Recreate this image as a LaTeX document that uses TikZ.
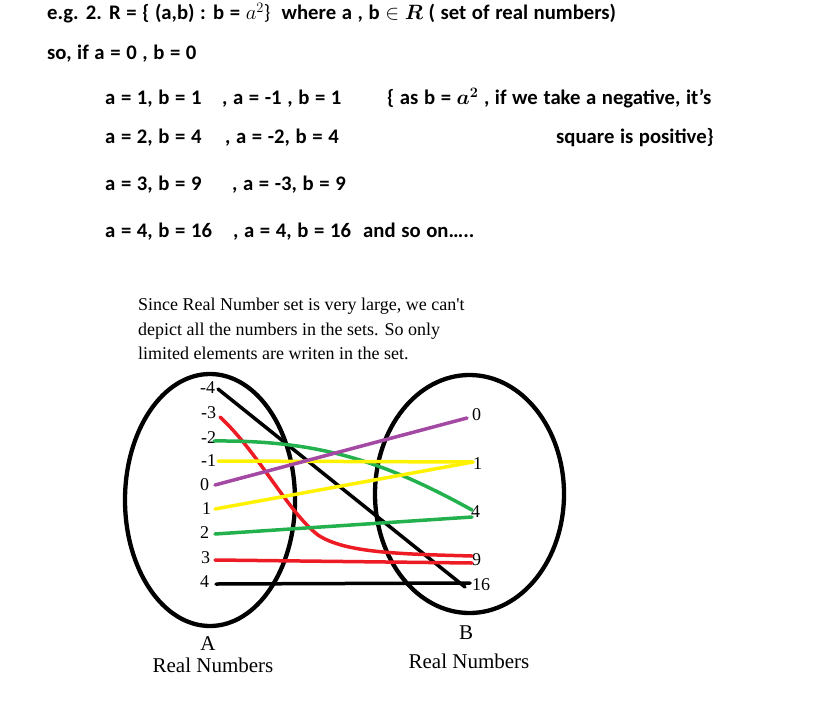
\documentclass[tikz,border=0pt]{standalone}
\usepackage{fontspec}
\setmainfont{Liberation Serif}
\newfontfamily\plainserif[Ligatures=TeXOff]{Liberation Serif}
\newfontfamily\calb[WordSpace=1.2]{Carlito}
\definecolor{pred}{HTML}{ED1C24}
\definecolor{pgreen}{HTML}{22B14C}
\definecolor{pyellow}{HTML}{FFF200}
\definecolor{ppurple}{HTML}{A349A4}
\tikzset{
  ctext/.style={anchor=base west,inner sep=0pt,font=\calb\bfseries\fontsize{20.7}{24}\selectfont},
  ptext/.style={anchor=base west,inner sep=0pt,font=\plainserif\fontsize{18}{22}\selectfont},
  numlab/.style={anchor=base west,inner sep=0pt,font=\fontsize{18}{22}\selectfont},
  setlab/.style={anchor=base,inner sep=0pt,font=\fontsize{21}{24}\selectfont},
  setshape/.style={draw=black,line width=4.3pt},
  conn/.style={line width=3.5pt,line cap=round},
}
\begin{document}
\begin{tikzpicture}[x=1pt,y=-1pt]
\useasboundingbox[fill=white] (0,0) rectangle (826,706);
% header text
\node[ctext] (t1) at (47,20) {e.g. 2. R = \{ (a,b) : b = {\mdseries$a^2$\}}\ \ where a , b $\in$ {\boldmath$R$} ( set of real numbers)};
\node[ctext] (t2) at (47,60) {so, if a = 0 , b = 0};
\node[ctext] (t3a) at (105,105) {a = 1, b = 1};
\node[ctext] (t3b) at (222,105) {, a = -1 , b = 1};
\node[ctext] (t3c) at (387,105) {\{ as b = {\boldmath$a^2$} , if we take a negative, it’s};
\node[ctext] (t4a) at (105,143) {a = 2, b = 4};
\node[ctext] (t4b) at (225,143) {, a = -2, b = 4};
\node[ctext,anchor=base east] (t4c) at (714,143) {square is positive\}};
\node[ctext] (t5a) at (105,190) {a = 3, b = 9};
\node[ctext] (t5b) at (232,190) {, a = -3, b = 9};
\node[ctext] (t6a) at (105,237) {a = 4, b = 16};
\node[ctext] (t6b) at (233,237) {, a = 4, b = 16};
\node[ctext] (t6c) at (363,237) {and so on…..};
% note
\node[ptext] (p1) at (138,310) {Since Real Number set is very large, we can't};
\node[ptext] (p2) at (138,335) {depict all the numbers in the sets. So only};
\node[ptext] (p3) at (138,359) {limited elements are writen in the set.};
% sets
\draw[setshape] (210,500) ellipse [x radius=85pt, y radius=126pt];
\draw[setshape] (469.5,494) ellipse [x radius=94.5pt, y radius=119pt];
\node[setlab] (A) at (208,650) {A};
\node[setlab] (An) at (213,672) {Real Numbers};
\node[setlab] (B) at (466,639) {B};
\node[setlab] (Bn) at (469,668) {Real Numbers};
% domain labels
\node[numlab] (am4) at (200,393) {-4};
\node[numlab] (am3) at (201,418) {-3};
\node[numlab] (am2) at (201,443) {-2};
\node[numlab] (am1) at (201,466) {-1};
\node[numlab] (a0) at (200,490) {0};
\node[numlab] (a1) at (202,514) {1};
\node[numlab] (a2) at (200,538) {2};
\node[numlab] (a3) at (201,563) {3};
\node[numlab] (a4) at (200,587) {4};
% codomain labels
\node[numlab] (b0) at (472,420) {0};
\node[numlab] (b1) at (473,469) {1};
\node[numlab] (b4) at (471,517) {4};
\node[numlab] (b9) at (472,565) {9};
\node[numlab] (b16) at (472,590) {16};
% connector ends
\coordinate (sm4) at (218,389);
\coordinate (sm3) at (220,417);
\coordinate (sm2) at (214,441);
\coordinate (sm1) at (218,461);
\coordinate (s0) at (215,485);
\coordinate (s1) at (215,509);
\coordinate (s2) at (215,534);
\coordinate (s3) at (215,560);
\coordinate (s4) at (216,584);
\coordinate (e0) at (467,418);
\coordinate (e1) at (473,462);
\coordinate (e4a) at (472,510);
\coordinate (e4b) at (472,517);
\coordinate (e9a) at (472,556);
\coordinate (e9b) at (472,563);
\coordinate (e16a) at (470,583);
\coordinate (e16b) at (465,587);
% connectors
\draw[conn,black] (sm4) -- (e16b);
\draw[conn,pred] (sm3) .. controls (258,452) and (288,512) .. (318,535) .. controls (345,553) and (400,554) .. (e9a);
\draw[conn,pgreen] (sm2) .. controls (320,440) and (385,462) .. (e4a);
\draw[conn,pyellow] (sm1) -- (e1);
\draw[conn,ppurple] (s0) -- (e0);
\draw[conn,pyellow] (s1) -- (e1);
\draw[conn,pgreen] (s2) -- (e4b);
\draw[conn,pred] (s3) -- (e9b);
\draw[conn,black] (s4) -- (e16a);
\end{tikzpicture}
\end{document}
